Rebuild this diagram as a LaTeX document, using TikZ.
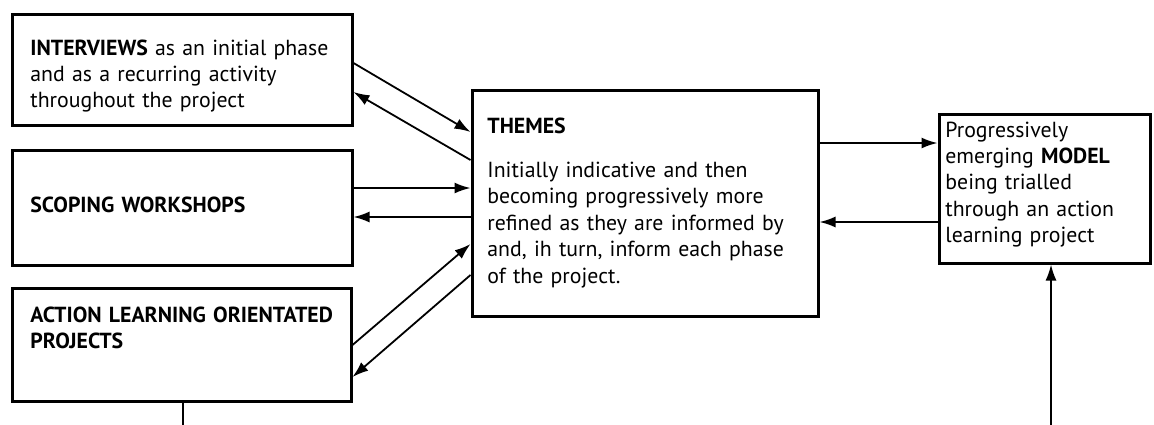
\documentclass[tikz,border=0pt]{standalone}
\usepackage{fontspec}
\setmainfont{PT Sans}
\usetikzlibrary{arrows.meta}

\begin{document}
\begin{tikzpicture}[>={Latex[length=8pt,width=5.5pt]},x=0.5pt,y=-0.5pt,
  box/.style={draw,line width=1.5pt,inner sep=0pt},
  txt/.style={anchor=base west,align=left,inner sep=0pt,font=\fontsize{10.9}{13.2}\selectfont},
  link/.style={->,line width=0.9pt}]
  \useasboundingbox (0,0) rectangle (1154,424);
  % Three phases on the left
  \node[box,minimum width=170pt,minimum height=55.5pt] (interviews) at (182,69.5) {};
  \node[box,minimum width=170pt,minimum height=57.5pt] (scoping) at (182,207.5) {};
  \node[box,minimum width=169.5pt,minimum height=56.5pt] (action) at (181.5,344.5) {};
  \node[txt,text width=160pt] (interviewstxt) at (30,55)
    {\textbf{INTERVIEWS} as an initial phase\\and as a recurring activity\\throughout the project};
  \node[txt,text width=160pt] (scopingtxt) at (30,212) {\textbf{SCOPING WORKSHOPS}};
  \node[txt,text width=160pt] (actiontxt) at (30,322)
    {\textbf{ACTION LEARNING ORIENTATED}\\\textbf{PROJECTS}};
  % Themes in the middle, model on the right
  \node[box,minimum width=173pt,minimum height=113pt] (themes) at (645,203) {};
  \node[box,minimum width=105.5pt,minimum height=74.5pt] (model) at (1044.5,188.5) {};
  \node[txt,text width=165pt] (themestxt) at (487,133)
    {\textbf{THEMES}\\[9pt]Initially indicative and then\\becoming progressively more\\refined as they are informed by\\and, ih turn, inform each phase\\of the project.};
  \node[txt,text width=100pt] (modeltxt) at (945,137)
    {Progressively\\emerging \textbf{MODEL}\\being trialled\\through an action\\learning project};
  % Two-way links
  \draw[link] ([shift={(0,-6.5)}]interviews.east) -- ([shift={(0,-71)}]themes.west);
  \draw[link] ([shift={(0,-43)}]themes.west) -- ([shift={(0,22.5)}]interviews.east);
  \draw[link] ([shift={(0,-19.5)}]scoping.east) -- ([shift={(0,-15)}]themes.west);
  \draw[link] ([shift={(0,14)}]themes.west) -- ([shift={(0,9.5)}]scoping.east);
  \draw[link] ([shift={(0,0.5)}]action.east) -- ([shift={(0,41)}]themes.west);
  \draw[link] ([shift={(0,72)}]themes.west) -- ([shift={(0,32.5)}]action.east);
  \draw[link] ([shift={(0,-60)}]themes.east) -- ([shift={(0,-45.5)}]model.west);
  \draw[link] ([shift={(0,33.5)}]model.west) -- ([shift={(0,19)}]themes.east);
  % Lines running off the bottom
  \coordinate (actionend) at (183,430);
  \coordinate (modelstart) at (1051,430);
  \draw[line width=0.9pt] (action.south -| actionend) -- (actionend);
  \draw[link] (modelstart) -- (model.south -| modelstart);
\end{tikzpicture}
\end{document}
